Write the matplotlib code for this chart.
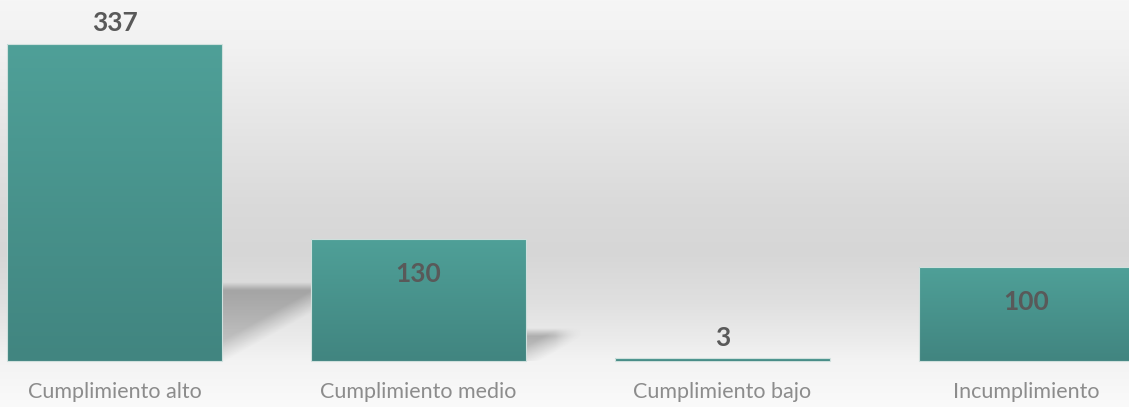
import matplotlib
matplotlib.use('Agg')
import matplotlib.pyplot as plt
import numpy as np
from matplotlib.colors import LinearSegmentedColormap

# data
categories = ['Cumplimiento alto', 'Cumplimiento medio', 'Cumplimiento bajo', 'Incumplimiento']
values = [337, 130, 3, 100]
label_inside = [False, True, False, True]   # where excel put the data label

W, H = 1129, 407
fig = plt.figure(figsize=(W / 100, H / 100), dpi=100)

# background gradient (light top, grey middle, white floor)
bg = fig.add_axes([0, 0, 1, 1])
stops_pos = [0.0, 0.12, 0.33, 0.5, 0.62, 0.74, 0.84, 0.89, 1.0]
stops_val = [0.965, 0.945, 0.895, 0.855, 0.84, 0.875, 0.925, 0.955, 0.98]
yy = np.linspace(0, 1, 400)
g = np.interp(yy, stops_pos, stops_val)
bg_img = np.repeat(g[:, None], 3, axis=1)[:, None, :].repeat(2, axis=1)
bg.imshow(bg_img, extent=[0, 1, 0, 1], aspect='auto', origin='upper')
bg.set_axis_off()

ax = fig.add_axes([0, 0, 1, 1])
ax.patch.set_alpha(0)

# pixel <-> data scale
step_px = 304.0
x0_px = 114.5
base_px = 46.0          # floor, from figure bottom
px_per_unit = 0.9407
xlim = (-x0_px / step_px, (W - x0_px) / step_px)
ylim = (-base_px / px_per_unit, (H - base_px) / px_per_unit)

x = np.arange(len(values))
width = 0.707

bar_cmap = LinearSegmentedColormap.from_list('teal', ['#418580', '#4fa098'])
bars = ax.bar(x, values, width=width, color='none', edgecolor='#cfe0dd', linewidth=0.8, zorder=4)


def soft(d, b):
    return np.clip(0.5 + d / (2 * b), 0, 1)


for rect, v in zip(bars, values):
    bx, bw = rect.get_x(), rect.get_width()
    grad = np.linspace(1, 0, 100)[:, None]
    im = ax.imshow(grad, extent=[bx, bx + bw, 0, v], aspect='auto', cmap=bar_cmap,
                   vmin=0, vmax=1, zorder=3)
    im.set_clip_path(rect)

    # soft perspective shadow behind the bar (worked out in pixels)
    if v < 10:
        continue
    h_px = v * px_per_unit
    t = 0.235 * h_px            # shadow top above floor
    dx = 0.31 * h_px            # shadow reach to the right
    bw_px = 1.45 * dx
    bh_px = t + 10
    u = np.linspace(0, bw_px, 200)[None, :]
    y = np.linspace(0, bh_px, 120)[:, None]
    y_low = t * (0.12 + 0.74 * u / dx)
    alpha = (0.44 * soft(t - y, 4) * soft((y - y_low) * 0.8, 9)
             * soft(1.15 * dx - u, 14) * (0.55 + 0.45 * np.clip(y / t, 0, 1)))
    rgba = np.zeros((120, 200, 4))
    rgba[..., :3] = 0.35
    rgba[..., 3] = alpha
    xr = bx + bw
    ax.imshow(rgba, extent=[xr, xr + bw_px / step_px, 0, bh_px / px_per_unit],
              origin='lower', aspect='auto', zorder=2, interpolation='bilinear')

# data labels
for xi, v, inside in zip(x, values, label_inside):
    off = -35 if inside else 20.5
    ax.annotate(str(v), (xi, v), xytext=(0, off * 0.72), textcoords='offset points',
                ha='center', va='center', fontsize=19, fontweight='bold',
                color='#595959', family='Lato', zorder=6)

# category labels
for xi, c in zip(x, categories):
    ax.text(xi, ylim[0] + 15 / px_per_unit, c, ha='center', va='center',
            fontsize=15.5, color='#8c8c8c', family='Lato')

ax.set_xlim(*xlim)
ax.set_ylim(*ylim)
ax.set_axis_off()

fig.savefig('out.png', dpi=100)
